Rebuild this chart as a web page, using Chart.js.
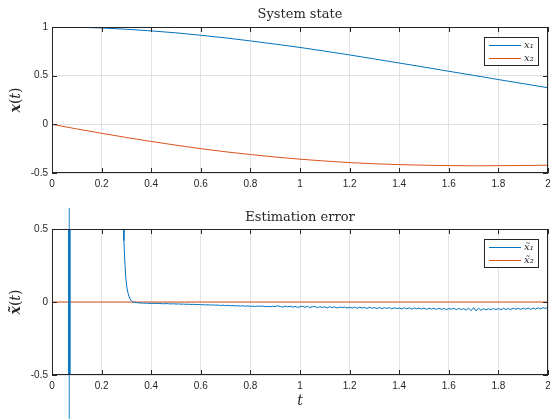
<!DOCTYPE html>
<html>
<head>
<meta charset="utf-8">
<script src="https://cdn.jsdelivr.net/npm/chart.js@4/dist/chart.umd.min.js"></script>
<style>
  html, body { margin: 0; padding: 0; background: #fff; }
  body { width: 550px; height: 419px; position: relative; overflow: hidden; }
  #stateChart { position: absolute; left: 0; top: 0; }
  #errorChart { position: absolute; left: 0; top: 208px; }
</style>
</head>
<body>
<canvas id="stateChart" width="550" height="200"></canvas>
<canvas id="errorChart" width="550" height="211"></canvas>
<script>
// System state samples
const tState = [0, 0.1, 0.2, 0.3, 0.4, 0.5, 0.6, 0.7, 0.8, 0.9, 1.0,
  1.1, 1.2, 1.3, 1.4, 1.5, 1.6, 1.7, 1.8, 1.9, 2.0]
const x1 = [1.0, 0.998, 0.99, 0.977, 0.96, 0.94, 0.915, 0.888, 0.857, 0.824, 0.79,
  0.752, 0.713, 0.672, 0.63, 0.588, 0.545, 0.503, 0.46, 0.418, 0.376]
const x2 = [0, -0.047, -0.092, -0.135, -0.176, -0.214, -0.25, -0.282, -0.31, -0.336, -0.358,
  -0.377, -0.393, -0.405, -0.414, -0.42, -0.424, -0.426, -0.425, -0.423, -0.42]

// Estimation error: start-up transient (values far off the axis)
const tErrStart = [0, 0.0005, 0.066, 0.0675, 0.069, 0.0705, 0.072, 0.074, 0.278,
  0.284, 0.287, 0.29, 0.294, 0.298, 0.302, 0.306, 0.31, 0.315, 0.32, 0.325, 0.33]
const e1Start = [40, -40, -40, 40, -40, 40, -40, 40, 40,
  1.2, 0.55, 0.42, 0.26, 0.16, 0.1, 0.065, 0.04, 0.02, 0.008, 0.002, -0.002]

// Estimation error: steady part, sampled every 0.01 from 0.34 to 2.00
const tErrTail = [0.34, 0.35, 0.36, 0.37, 0.38, 0.39, 0.40, 0.41, 0.42, 0.43, 0.44, 0.45, 0.46, 0.47, 0.48, 0.49,
  0.50, 0.51, 0.52, 0.53, 0.54, 0.55, 0.56, 0.57, 0.58, 0.59, 0.60, 0.61, 0.62, 0.63, 0.64, 0.65, 0.66, 0.67, 0.68, 0.69,
  0.70, 0.71, 0.72, 0.73, 0.74, 0.75, 0.76, 0.77, 0.78, 0.79, 0.80, 0.81, 0.82, 0.83, 0.84, 0.85, 0.86, 0.87, 0.88, 0.89,
  0.90, 0.91, 0.92, 0.93, 0.94, 0.95, 0.96, 0.97, 0.98, 0.99, 1.00, 1.01, 1.02, 1.03, 1.04, 1.05, 1.06, 1.07, 1.08, 1.09,
  1.10, 1.11, 1.12, 1.13, 1.14, 1.15, 1.16, 1.17, 1.18, 1.19, 1.20, 1.21, 1.22, 1.23, 1.24, 1.25, 1.26, 1.27, 1.28, 1.29,
  1.30, 1.31, 1.32, 1.33, 1.34, 1.35, 1.36, 1.37, 1.38, 1.39, 1.40, 1.41, 1.42, 1.43, 1.44, 1.45, 1.46, 1.47, 1.48, 1.49,
  1.50, 1.51, 1.52, 1.53, 1.54, 1.55, 1.56, 1.57, 1.58, 1.59, 1.60, 1.61, 1.62, 1.63, 1.64, 1.65, 1.66, 1.67, 1.68, 1.69,
  1.70, 1.71, 1.72, 1.73, 1.74, 1.75, 1.76, 1.77, 1.78, 1.79, 1.80, 1.81, 1.82, 1.83, 1.84, 1.85, 1.86, 1.87, 1.88, 1.89,
  1.90, 1.91, 1.92, 1.93, 1.94, 1.95, 1.96, 1.97, 1.98, 1.99, 2.00]
const e1Tail = [-0.004, -0.006, -0.007, -0.008, -0.008, -0.009, -0.010, -0.009, -0.011, -0.010, -0.011, -0.012, -0.011, -0.012, -0.013, -0.012,
  -0.014, -0.013, -0.015, -0.014, -0.016, -0.015, -0.017, -0.016, -0.018, -0.017, -0.019, -0.018, -0.020, -0.019, -0.021, -0.020, -0.022, -0.021, -0.024, -0.022,
  -0.025, -0.023, -0.026, -0.024, -0.027, -0.025, -0.028, -0.026, -0.029, -0.027, -0.030, -0.028, -0.031, -0.027, -0.030, -0.028, -0.032, -0.029, -0.033, -0.029,
  -0.032, -0.026, -0.031, -0.035, -0.028, -0.033, -0.029, -0.035, -0.030, -0.037, -0.032, -0.029, -0.036, -0.030, -0.038, -0.032, -0.031, -0.039, -0.032, -0.037,
  -0.033, -0.040, -0.032, -0.038, -0.034, -0.041, -0.035, -0.039, -0.034, -0.041, -0.036, -0.042, -0.035, -0.043, -0.036, -0.041, -0.037, -0.044, -0.036, -0.043,
  -0.038, -0.045, -0.037, -0.046, -0.039, -0.044, -0.038, -0.047, -0.040, -0.045, -0.041, -0.048, -0.039, -0.047, -0.040, -0.049, -0.041, -0.046, -0.042, -0.049,
  -0.041, -0.050, -0.042, -0.048, -0.043, -0.051, -0.042, -0.050, -0.044, -0.052, -0.045, -0.049, -0.043, -0.053, -0.044, -0.051, -0.046, -0.055, -0.041, -0.060,
  -0.039, -0.061, -0.042, -0.057, -0.045, -0.054, -0.046, -0.053, -0.044, -0.052, -0.045, -0.053, -0.043, -0.051, -0.045, -0.052, -0.042, -0.050, -0.043, -0.051,
  -0.042, -0.049, -0.041, -0.050, -0.042, -0.048, -0.040, -0.047, -0.039, -0.045, -0.034]

// Second error component stays at zero
const tE2 = [0, 2]
const e2 = [0, 0]

// The one sweep that MATLAB leaves unclipped
const tSpike = [0.07, 0.07]
const eSpike = [60, -60]

const blue = "#0072BD"
const orange = "#D95319"
const axisColor = "#262626"
const gridColor = "#e2e2e2"
const sansFont = "'Liberation Sans', Arial, sans-serif"
const serifFont = "'DejaVu Serif', 'Liberation Serif', serif"

function toPoints(xs, ys) {
  return xs.map((x, i) => ({ x: x, y: ys[i] }))
}

// MATLAB-like tick text: 1 instead of 1.0
function tickText(value) {
  return String(Number(value.toFixed(2)))
}

// Box, inward ticks, inside legend and math-style axis titles
const matlabAxes = {
  id: "matlabAxes",
  afterDatasetsDraw(chart) {
    const { ctx, chartArea: a, scales } = chart
    ctx.save()
    ctx.strokeStyle = axisColor
    ctx.lineWidth = 1
    ctx.strokeRect(a.left + 0.5, a.top + 0.5, a.right - a.left - 1, a.bottom - a.top - 1)
    ctx.beginPath()
    scales.x.ticks.forEach((t) => {
      const px = Math.round(scales.x.getPixelForValue(t.value)) + 0.5
      ctx.moveTo(px, a.bottom)
      ctx.lineTo(px, a.bottom - 5)
      ctx.moveTo(px, a.top)
      ctx.lineTo(px, a.top + 5)
    })
    scales.y.ticks.forEach((t) => {
      const py = Math.round(scales.y.getPixelForValue(t.value)) + 0.5
      ctx.moveTo(a.left, py)
      ctx.lineTo(a.left + 5, py)
      ctx.moveTo(a.right, py)
      ctx.lineTo(a.right - 5, py)
    })
    ctx.stroke()
    ctx.restore()
  },
  afterDraw(chart, args, opts) {
    const { ctx, chartArea: a } = chart
    ctx.save()

    // legend box in the top right corner
    const items = chart.data.datasets.filter((d) => d.label)
    const bx = a.right - 64
    const by = a.top + 10.5
    ctx.fillStyle = "#fff"
    ctx.fillRect(bx, by, 54, 28)
    ctx.strokeStyle = axisColor
    ctx.lineWidth = 1
    ctx.strokeRect(Math.round(bx) + 0.5, by, 54, 28)
    items.forEach((d, i) => {
      const ly = Math.round(by + 7 + i * 13) + 0.5
      ctx.strokeStyle = d.borderColor
      ctx.beginPath()
      ctx.moveTo(bx + 5, ly)
      ctx.lineTo(bx + 37, ly)
      ctx.stroke()
      ctx.fillStyle = axisColor
      ctx.font = "italic 10px " + serifFont
      ctx.textBaseline = "middle"
      ctx.textAlign = "left"
      ctx.fillText(d.label, bx + 40, ly)
    })

    // math-style axis titles
    const drawParts = (parts) => {
      let w = 0
      parts.forEach((p) => { ctx.font = p.f; w += ctx.measureText(p.t).width })
      let cx = -w / 2
      parts.forEach((p) => {
        ctx.font = p.f
        ctx.fillText(p.t, cx, 0)
        cx += ctx.measureText(p.t).width
      })
    }
    ctx.fillStyle = axisColor
    ctx.textAlign = "left"
    ctx.textBaseline = "middle"
    if (opts.yTitle) {
      ctx.save()
      ctx.translate(16, (a.top + a.bottom) / 2)
      ctx.rotate(-Math.PI / 2)
      drawParts(opts.yTitle)
      ctx.restore()
    }
    if (opts.xTitle) {
      ctx.save()
      ctx.translate((a.left + a.right) / 2, opts.xTitleY)
      drawParts(opts.xTitle)
      ctx.restore()
    }
    ctx.restore()
  },
}

function makeOptions(title, titlePad, xHeight, yMin, yMax, mathTitles) {
  return {
    responsive: false,
    animation: false,
    layout: { padding: { left: 0, right: 2, top: 0, bottom: 0 } },
    elements: { point: { radius: 0 }, line: { borderWidth: 1, tension: 0 } },
    plugins: {
      legend: { display: false },
      tooltip: { enabled: false },
      title: {
        display: true,
        text: title,
        fullSize: false,
        color: axisColor,
        font: { family: serifFont, size: 13, weight: "normal", lineHeight: 1.2 },
        padding: titlePad,
      },
      matlabAxes: mathTitles,
    },
    scales: {
      x: {
        type: "linear",
        min: 0,
        max: 2,
        ticks: {
          stepSize: 0.2,
          padding: 5,
          maxRotation: 0,
          autoSkip: false,
          color: axisColor,
          font: { family: sansFont, size: 10 },
          callback: tickText,
        },
        grid: { color: gridColor, drawTicks: false },
        border: { display: false },
        afterFit: (scale) => {
          scale.height = xHeight
          scale.paddingLeft = 0
          scale.paddingRight = 0
        },
      },
      y: {
        type: "linear",
        min: yMin,
        max: yMax,
        ticks: {
          stepSize: 0.5,
          padding: 4,
          color: axisColor,
          font: { family: sansFont, size: 10 },
          callback: tickText,
        },
        grid: { color: gridColor, drawTicks: false },
        border: { display: false },
        afterFit: (scale) => {
          scale.width = 52
          scale.paddingTop = 0
          scale.paddingBottom = 0
        },
      },
    },
  }
}

const serif14 = "14px " + serifFont
const italic14 = "italic 14px " + serifFont
const boldItalic14 = "italic bold 14px " + serifFont

new Chart(document.getElementById("stateChart"), {
  type: "line",
  data: {
    datasets: [
      { label: "x\u2081", data: toPoints(tState, x1), borderColor: blue },
      { label: "x\u2082", data: toPoints(tState, x2), borderColor: orange },
    ],
  },
  options: makeOptions("System state", { top: 7, bottom: 4.4 }, 27, -0.5, 1, {
    yTitle: [{ t: "x", f: boldItalic14 }, { t: "(", f: serif14 }, { t: "t", f: italic14 }, { t: ")", f: serif14 }],
  }),
  plugins: [matlabAxes],
})

new Chart(document.getElementById("errorChart"), {
  type: "line",
  data: {
    datasets: [
      { label: "x\u0303\u2081", data: toPoints(tErrStart.concat(tErrTail), e1Start.concat(e1Tail)), borderColor: blue },
      { label: "x\u0303\u2082", data: toPoints(tE2, e2), borderColor: orange },
      { data: toPoints(tSpike, eSpike), borderColor: "#5aa9dd", clip: false },
    ],
  },
  options: makeOptions("Estimation error", { top: 2, bottom: 3.4 }, 44, -0.5, 0.5, {
    yTitle: [{ t: "x\u0303", f: boldItalic14 }, { t: "(", f: serif14 }, { t: "t", f: italic14 }, { t: ")", f: serif14 }],
    xTitle: [{ t: "t", f: italic14 }],
    xTitleY: 193,
  }),
  plugins: [matlabAxes],
})
</script>
</body>
</html>
